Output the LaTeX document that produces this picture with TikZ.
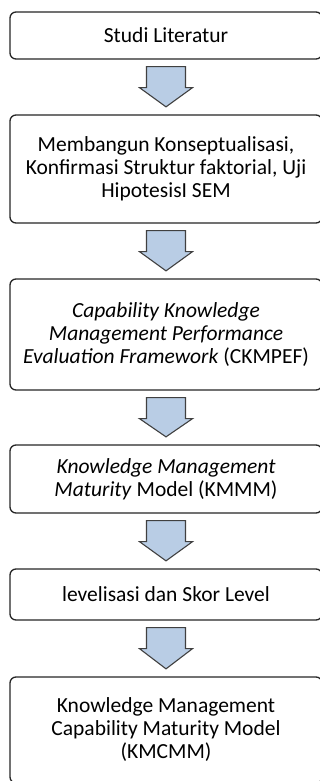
\documentclass[tikz,border=0pt]{standalone}
\usepackage{fontspec}
\setmainfont{Carlito}
\usetikzlibrary{calc,positioning}

\begin{document}
\begin{tikzpicture}[x=1pt, y=-1pt,
		stepbox/.style={draw=black!85, line width=1.3pt, rounded corners=6pt, fill=white,
			minimum width=312pt, align=center, inner sep=0pt,
			font=\fontsize{21.5}{23}\selectfont},
		fatarrow/.style={draw=black!75, line width=1.1pt, fill={rgb,255:red,185;green,205;blue,229}, line join=miter}]
		\clip (0,0) rectangle (320,781);
		\node [stepbox, minimum height=47pt]  (lit)   at (166,35.5)  {Studi Literatur};
		\node [stepbox, minimum height=108pt] (sem)   at (166,169)   {Membangun Konseptualisasi,\\Konfirmasi Struktur faktorial, Uji\\HipotesisI SEM};
		\node [stepbox, minimum height=111pt] (ckm)   at (166,334.5) {\textit{Capability Knowledge}\\\textit{Management Performance}\\\textit{Evaluation Framework} (CKMPEF)};
		\node [stepbox, minimum height=68pt]  (kmmm)  at (166,479)   {\textit{Knowledge Management}\\\textit{Maturity} Model (KMMM)};
		\node [stepbox, minimum height=51pt]  (skor)  at (166,594.5) {levelisasi dan Skor Level};
		\node [stepbox, minimum height=106pt] (kmcmm) at (166,730)   {Knowledge Management\\Capability Maturity Model\\(KMCMM)};
		% block arrows between the steps
		\foreach \a/\b in {lit/sem, sem/ckm, ckm/kmmm, kmmm/skor, skor/kmcmm}
			\draw [fatarrow] ($(\a.south)+(-19.5,7)$) -- ++(0,21) -- ++(-7,0)
				-- ($(\b.north)+(0,-7.5)$) -- ($(\a.south)+(26.5,28)$) -- ++(-7,0) -- ++(0,-21) -- cycle;
\end{tikzpicture}
\end{document}
